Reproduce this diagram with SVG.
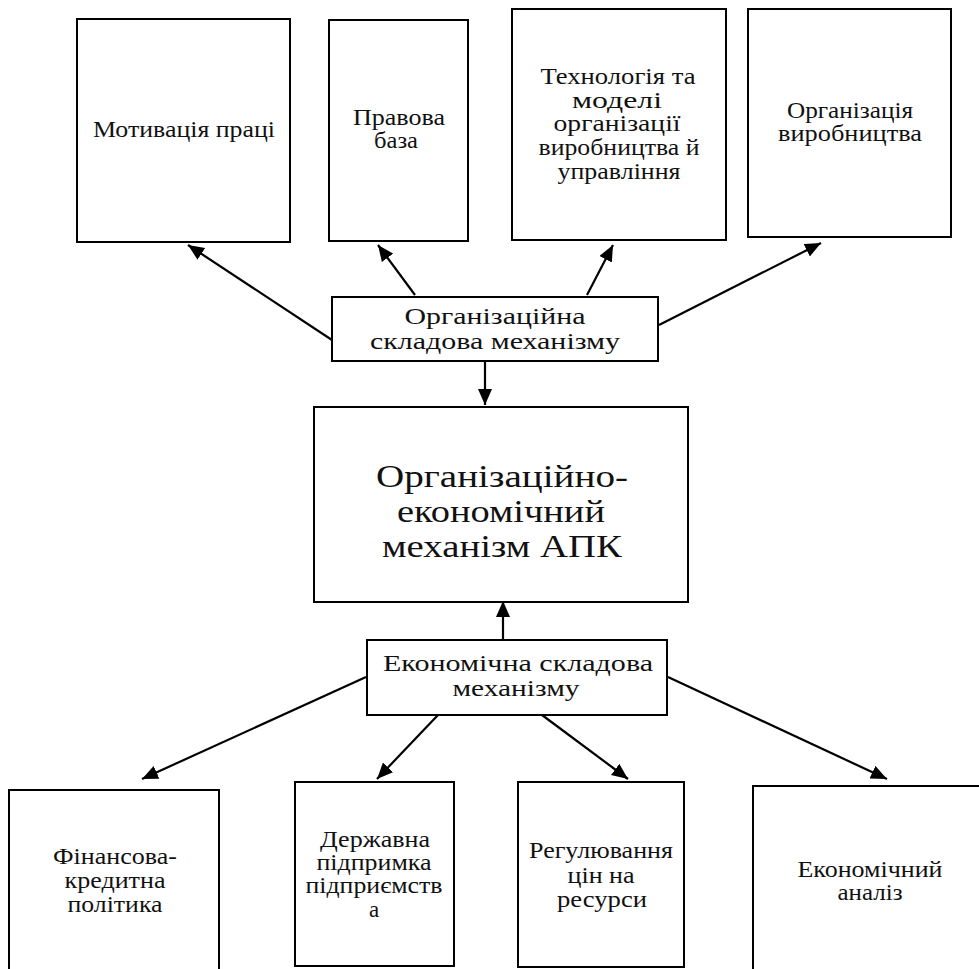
<svg xmlns="http://www.w3.org/2000/svg" width="979" height="969" viewBox="0 0 979 969">
<defs>
<marker id="ah" markerUnits="userSpaceOnUse" markerWidth="17" markerHeight="15" refX="16" refY="7" orient="auto">
<path d="M0,0 L16,7 L0,14 z" fill="#000"/>
</marker>
</defs>
<style>
.box{fill:#fff;stroke:#000;stroke-width:2}
.t{font-family:'Times New Roman','Liberation Serif','DejaVu Serif',serif;font-size:23px;fill:#111;text-anchor:middle}
.m{font-size:24px}
.big{font-size:31px}
.c{stroke:#000;stroke-width:2.2;fill:none;marker-end:url(#ah)}
</style>
<rect width="979" height="969" fill="#fff"/>
<g id="connectors">
<line class="c" x1="332" y1="340" x2="188" y2="245"/>
<line class="c" x1="415" y1="295" x2="378" y2="245"/>
<line class="c" x1="587" y1="295" x2="613" y2="245"/>
<line class="c" x1="659" y1="325" x2="821" y2="243"/>
<line class="c" x1="485" y1="361" x2="485" y2="405"/>
<line class="c" x1="503" y1="640" x2="503" y2="601"/>
<line class="c" x1="366" y1="677" x2="142" y2="779"/>
<line class="c" x1="438" y1="715" x2="377" y2="779"/>
<line class="c" x1="542" y1="715" x2="628" y2="779"/>
<line class="c" x1="668" y1="677" x2="887" y2="779"/>
</g>
<g id="n-motyvatsiia">
<rect class="box" x="77" y="19" width="213" height="223"/>
<text class="t" x="184" y="137" textLength="182" lengthAdjust="spacingAndGlyphs">Мотивація праці</text>
</g>
<g id="n-pravova">
<rect class="box" x="329" y="20" width="139" height="221"/>
<text class="t" x="399" y="125" textLength="92" lengthAdjust="spacingAndGlyphs">Правова</text>
<text class="t" x="396" y="148" textLength="44" lengthAdjust="spacingAndGlyphs">база</text>
</g>
<g id="n-tekhnolohiia">
<rect class="box" x="512" y="9" width="214" height="231"/>
<text class="t" x="618" y="84" textLength="155" lengthAdjust="spacingAndGlyphs">Технологія та</text>
<text class="t" x="617" y="108" textLength="90" lengthAdjust="spacingAndGlyphs">моделі</text>
<text class="t" x="617" y="131" textLength="127" lengthAdjust="spacingAndGlyphs">організації</text>
<text class="t" x="619" y="155" textLength="161" lengthAdjust="spacingAndGlyphs">виробництва й</text>
<text class="t" x="619" y="179" textLength="123" lengthAdjust="spacingAndGlyphs">управління</text>
</g>
<g id="n-orh-vyrobnytstva">
<rect class="box" x="748" y="9" width="203" height="228"/>
<text class="t" x="850" y="118" textLength="126" lengthAdjust="spacingAndGlyphs">Організація</text>
<text class="t" x="850" y="141" textLength="144" lengthAdjust="spacingAndGlyphs">виробництва</text>
</g>
<g id="n-orh-skladova">
<rect class="box" x="332" y="297" width="326" height="64"/>
<text class="t m" x="495" y="324" textLength="181" lengthAdjust="spacingAndGlyphs">Організаційна</text>
<text class="t m" x="495" y="349" textLength="250" lengthAdjust="spacingAndGlyphs">складова механізму</text>
</g>
<g id="n-mekhanizm">
<rect class="box" x="314" y="407" width="374" height="195"/>
<text class="t big" x="502" y="487" textLength="252" lengthAdjust="spacingAndGlyphs">Організаційно-</text>
<text class="t big" x="501" y="522" textLength="208" lengthAdjust="spacingAndGlyphs">економічний</text>
<text class="t big" x="502" y="557" textLength="240" lengthAdjust="spacingAndGlyphs">механізм АПК</text>
</g>
<g id="n-ekon-skladova">
<rect class="box" x="367" y="640" width="300" height="75"/>
<text class="t m" x="518" y="671" textLength="270" lengthAdjust="spacingAndGlyphs">Економічна складова</text>
<text class="t m" x="516" y="696" textLength="127" lengthAdjust="spacingAndGlyphs">механізму</text>
</g>
<g id="n-finansova">
<rect class="box" x="9" y="790" width="210" height="190"/>
<text class="t" x="115" y="864" textLength="124" lengthAdjust="spacingAndGlyphs">Фінансова-</text>
<text class="t" x="115" y="888" textLength="101" lengthAdjust="spacingAndGlyphs">кредитна</text>
<text class="t" x="115" y="912" textLength="95" lengthAdjust="spacingAndGlyphs">політика</text>
</g>
<g id="n-derzhavna">
<rect class="box" x="295" y="782" width="159" height="184"/>
<text class="t" x="375" y="847" textLength="110" lengthAdjust="spacingAndGlyphs">Державна</text>
<text class="t" x="374" y="870" textLength="115" lengthAdjust="spacingAndGlyphs">підпримка</text>
<text class="t" x="374" y="893" textLength="137" lengthAdjust="spacingAndGlyphs">підприємств</text>
<text class="t" x="374" y="917">а</text>
</g>
<g id="n-rehuliuvannia">
<rect class="box" x="518" y="782" width="166" height="185"/>
<text class="t" x="601" y="858" textLength="144" lengthAdjust="spacingAndGlyphs">Регулювання</text>
<text class="t" x="601" y="883" textLength="67" lengthAdjust="spacingAndGlyphs">цін на</text>
<text class="t" x="602" y="907" textLength="90" lengthAdjust="spacingAndGlyphs">ресурси</text>
</g>
<g id="n-ekon-analiz">
<rect class="box" x="753" y="786" width="236" height="200"/>
<text class="t" x="870" y="877" textLength="145" lengthAdjust="spacingAndGlyphs">Економічний</text>
<text class="t" x="870" y="900" textLength="65" lengthAdjust="spacingAndGlyphs">аналіз</text>
</g>
</svg>
